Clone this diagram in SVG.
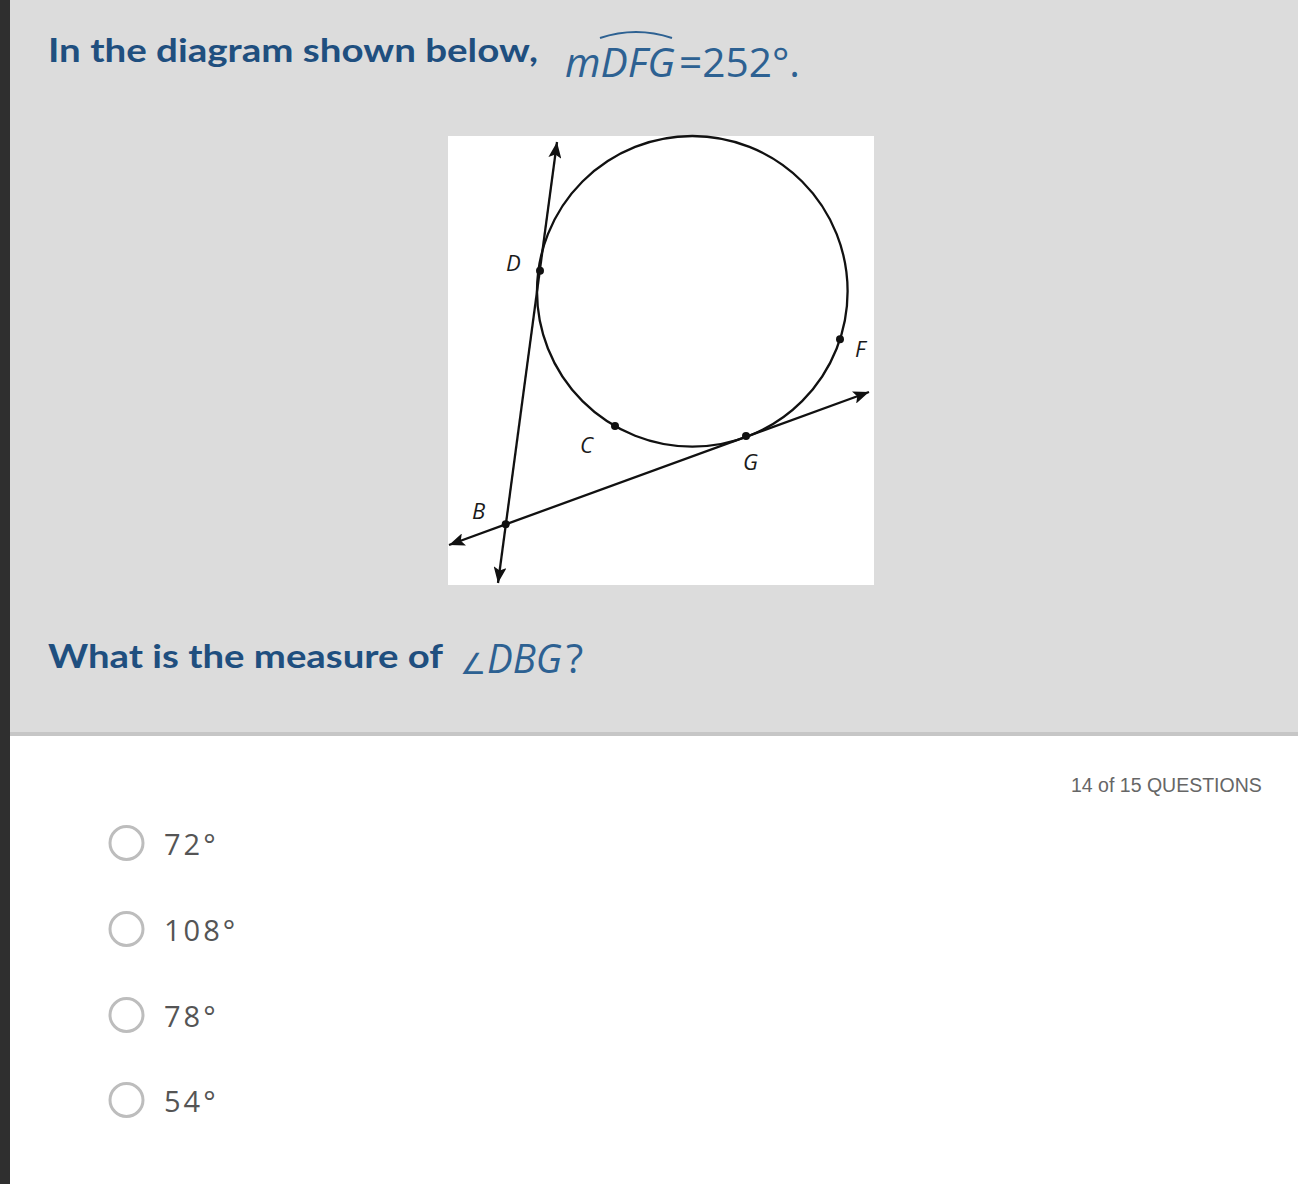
<svg xmlns="http://www.w3.org/2000/svg" width="1298" height="1184" viewBox="0 0 1298 1184">
  <style>
    .title { font-family: Lato, "Open Sans", sans-serif; font-weight: 700; font-size: 32px; fill: #1f4f7f; }
    .math { font-family: "Open Sans", "DejaVu Sans", sans-serif; font-size: 40px; fill: #2d6192; }
    .lbl { font-family: "Open Sans", "DejaVu Sans", sans-serif; font-style: italic; font-size: 22px; fill: #1a1a1a; }
    .geo { fill: none; stroke: #111; stroke-width: 2.3; }
    .dot { fill: #111; }
    .radio { fill: #fff; stroke: #bdbdbd; stroke-width: 3; }
    .opt { font-family: "Open Sans", "DejaVu Sans", sans-serif; font-size: 29px; fill: #555; letter-spacing: 3px; }
  </style>
  <defs>
    <marker id="arr" markerUnits="userSpaceOnUse" markerWidth="17" markerHeight="13" refX="16" refY="6.5" orient="auto-start-reverse">
      <path d="M0,0 L16,6.5 L0,13 L3.5,6.5 Z" fill="#111"/>
    </marker>
  </defs>

  <!-- backgrounds -->
  <rect x="0" y="0" width="1298" height="1184" fill="#ffffff"/>
  <rect x="10" y="0" width="1288" height="732" fill="#dcdcdc"/>
  <rect x="10" y="732" width="1288" height="4" fill="#c6c6c6"/>
  <rect x="0" y="0" width="10" height="1184" fill="#2f2f2f"/>

  <!-- header -->
  <g id="title">
    <text class="title" x="48" y="62" textLength="490" lengthAdjust="spacingAndGlyphs">In the diagram shown below,</text>
    <text class="math" x="565" y="77" font-style="italic" textLength="110" lengthAdjust="spacingAndGlyphs">mDFG</text>
    <path d="M600,38 Q636,26 672,38" fill="none" stroke="#2d6192" stroke-width="2"/>
    <text class="math" x="679" y="77" textLength="121" lengthAdjust="spacingAndGlyphs">=252°.</text>
  </g>

  <!-- figure -->
  <g id="figure">
    <rect x="448" y="136" width="426" height="449" fill="#ffffff"/>
    <g id="circle">
      <circle class="geo" cx="692.3" cy="291.3" r="155.3"/>
    </g>
    <g id="connectors">
      <path class="geo" d="M557,142 L498,583" marker-start="url(#arr)" marker-end="url(#arr)"/>
      <path class="geo" d="M449,545 L869,392" marker-start="url(#arr)" marker-end="url(#arr)"/>
    </g>
    <g id="node-D"><circle class="dot" cx="540" cy="270.7" r="4"/><text class="lbl" x="506" y="271">D</text></g>
    <g id="node-F"><circle class="dot" cx="840" cy="339.3" r="4"/><text class="lbl" x="855" y="357">F</text></g>
    <g id="node-C"><circle class="dot" cx="615" cy="426" r="4"/><text class="lbl" x="580" y="453">C</text></g>
    <g id="node-G"><circle class="dot" cx="746" cy="436" r="4"/><text class="lbl" x="743" y="470">G</text></g>
    <g id="node-B"><circle class="dot" cx="505.7" cy="524.3" r="4"/><text class="lbl" x="472" y="519">B</text></g>
  </g>

  <!-- question -->
  <g id="question">
    <text class="title" x="48" y="668" font-size="31" textLength="395" lengthAdjust="spacingAndGlyphs">What is the measure of</text>
    <text x="460" y="674" font-family="'DejaVu Sans', sans-serif" font-size="29" fill="#2d6192">∠</text>
    <text class="math" x="487" y="673" font-size="28" font-style="italic" textLength="75" lengthAdjust="spacingAndGlyphs">DBG</text>
    <text class="math" x="566" y="673" font-size="28">?</text>
  </g>

  <text x="1071" y="792" font-family="'Liberation Sans', Arial, sans-serif" font-size="19.5" fill="#666">14 of 15 QUESTIONS</text>

  <!-- options -->
  <g id="opt1"><circle class="radio" cx="126.5" cy="843" r="16.5"/><text class="opt" x="164" y="855">72°</text></g>
  <g id="opt2"><circle class="radio" cx="126.5" cy="929" r="16.5"/><text class="opt" x="164" y="941">108°</text></g>
  <g id="opt3"><circle class="radio" cx="126.5" cy="1015" r="16.5"/><text class="opt" x="164" y="1027">78°</text></g>
  <g id="opt4"><circle class="radio" cx="126.5" cy="1100" r="16.5"/><text class="opt" x="164" y="1112">54°</text></g>
</svg>
